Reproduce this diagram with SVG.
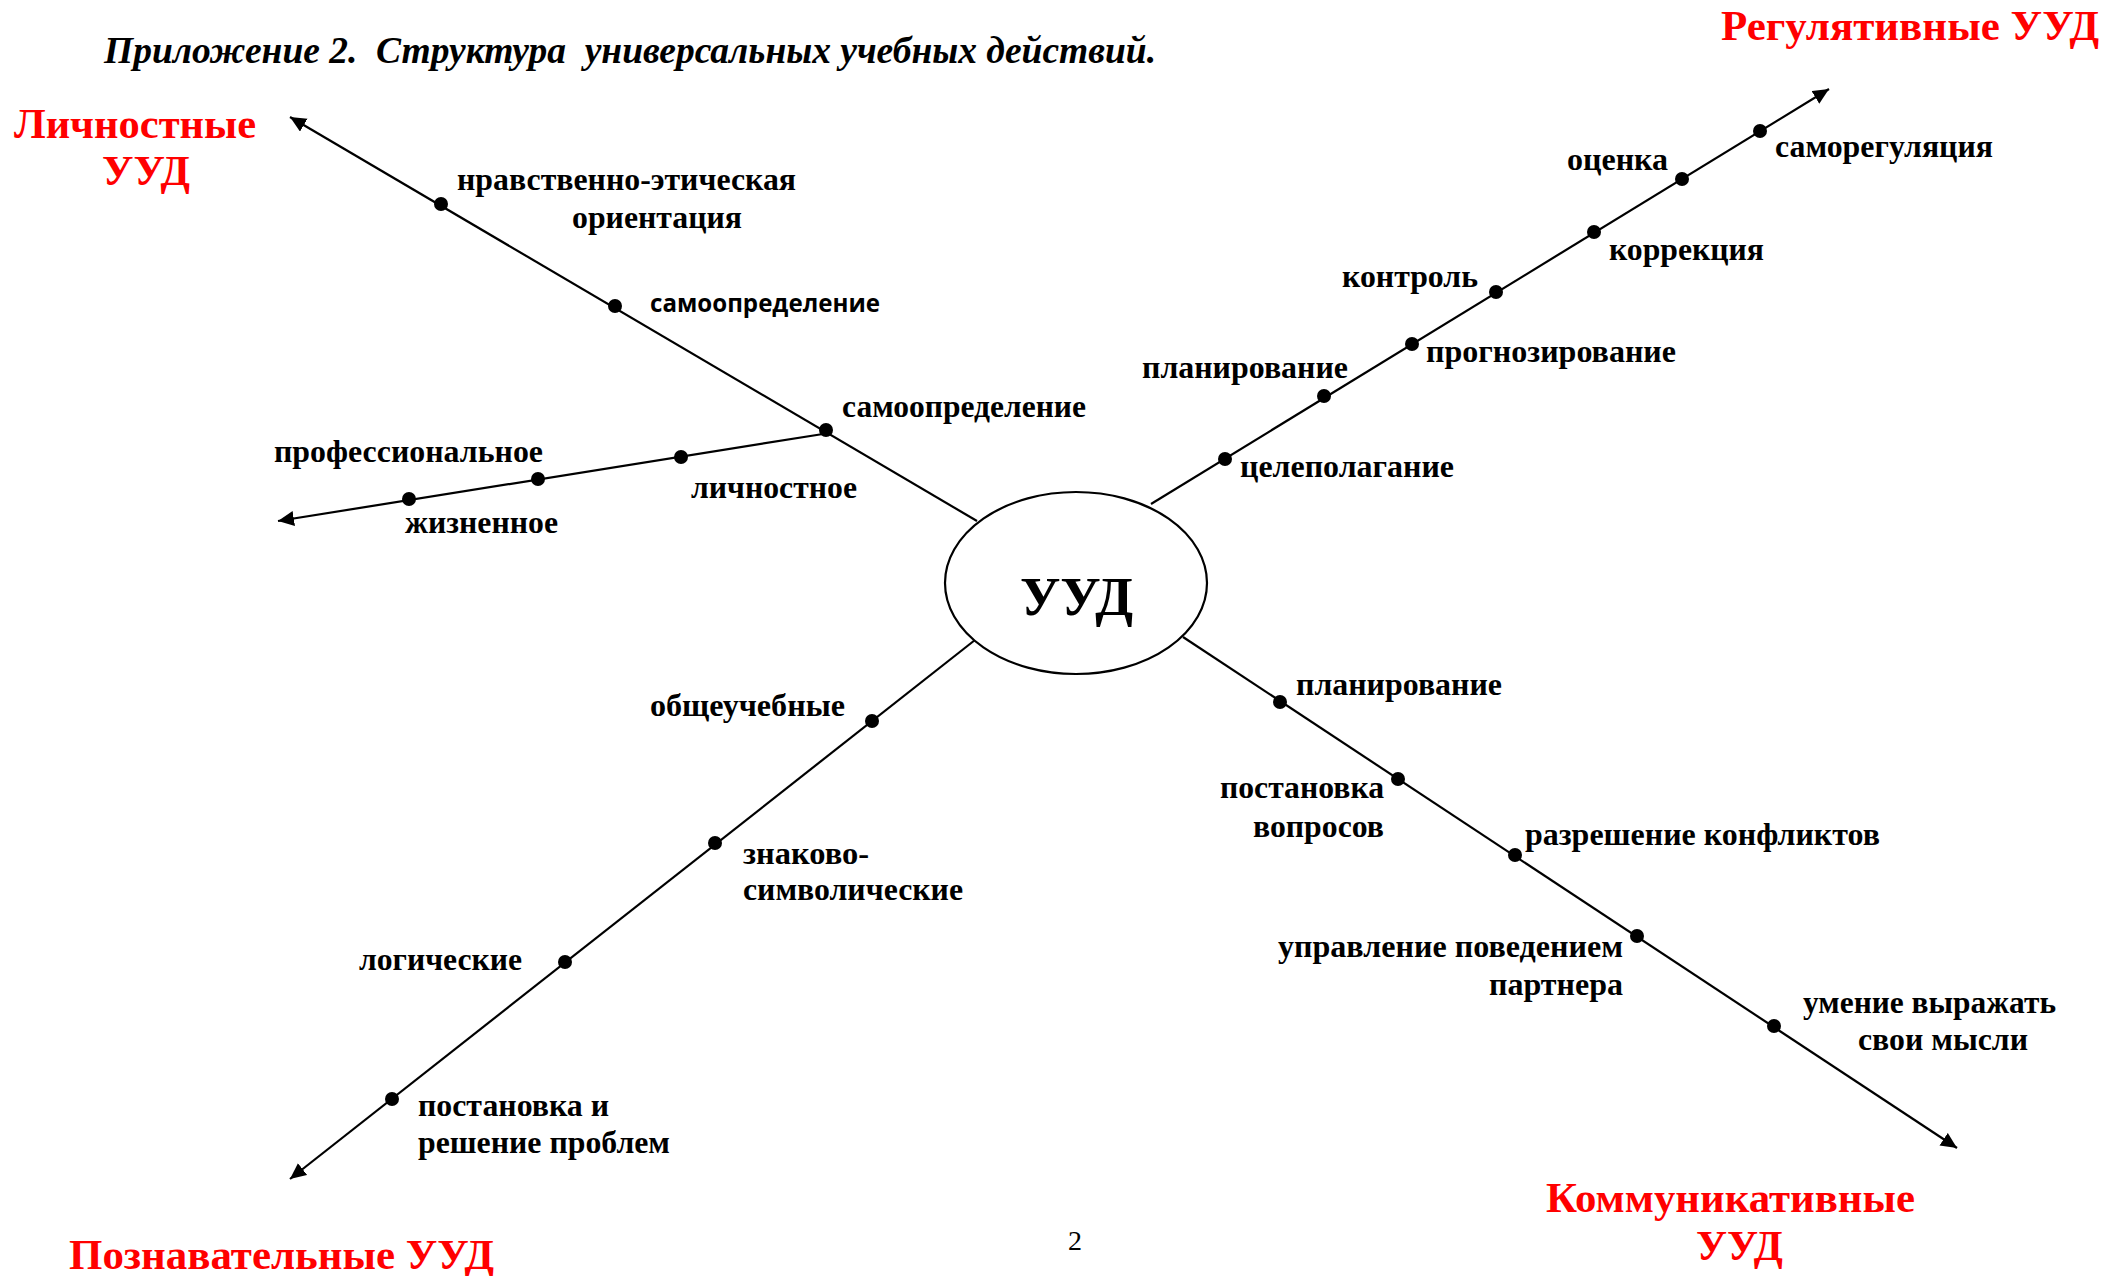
<svg xmlns="http://www.w3.org/2000/svg" width="2104" height="1276" viewBox="0 0 2104 1276">
<style>
.t{font-family:"Liberation Serif","Times New Roman",serif;font-weight:bold;font-size:32px;fill:#000}
.s{font-family:"Open Sans","Liberation Sans",sans-serif;font-weight:bold;font-size:25px;fill:#000}
.r{font-family:"Liberation Serif","Times New Roman",serif;font-weight:bold;font-size:43px;fill:#ff0000}
.ttl{font-family:"Liberation Serif","Times New Roman",serif;font-weight:bold;font-style:italic;font-size:38px;fill:#000;white-space:pre}
.big{font-size:55px}
.ln{stroke:#000;stroke-width:2.2;fill:none}
.d{fill:#000}
</style>
<defs>
<marker id="ar" markerUnits="userSpaceOnUse" markerWidth="18" markerHeight="16" refX="16" refY="7.5" orient="auto">
<path d="M0,0 L16,7.5 L0,15 z" fill="#000"/>
</marker>
</defs>
<rect width="2104" height="1276" fill="#fff"/>
<text class="ttl" x="104" y="63" textLength="1052" lengthAdjust="spacingAndGlyphs" xml:space="preserve">Приложение 2.  Структура  универсальных учебных действий.</text>
<text x="1068" y="1250" font-family="Liberation Serif, serif" font-size="28">2</text>

<g id="connectors">
<line class="ln" x1="977" y1="521" x2="290" y2="117" marker-end="url(#ar)"/>
<line class="ln" x1="823" y1="434" x2="278" y2="521" stroke-width="2.8" marker-end="url(#ar)"/>
<line class="ln" x1="1151" y1="504" x2="1829" y2="89" marker-end="url(#ar)"/>
<line class="ln" x1="1183" y1="637" x2="1957" y2="1148" marker-end="url(#ar)"/>
<line class="ln" x1="975" y1="640" x2="290" y2="1179" marker-end="url(#ar)"/>
</g>

<g id="center">
<ellipse cx="1076" cy="583" rx="131" ry="91" fill="#fff" stroke="#000" stroke-width="2.2"/>
<text class="t big" x="1020" y="615" textLength="113" lengthAdjust="spacingAndGlyphs">УУД</text>
</g>

<g id="personal">
<text class="r" x="14" y="138" textLength="242" lengthAdjust="spacingAndGlyphs">Личностные</text>
<text class="r" x="102" y="185" textLength="88" lengthAdjust="spacingAndGlyphs">УУД</text>
</g>
<g id="p1"><circle class="d" cx="441" cy="204" r="7"/>
<text class="t" x="457" y="190" textLength="339" lengthAdjust="spacingAndGlyphs">нравственно-этическая</text>
<text class="t" x="572" y="228" textLength="170" lengthAdjust="spacingAndGlyphs">ориентация</text></g>
<g id="p2"><circle class="d" cx="615" cy="306" r="7"/>
<text class="s" x="650" y="312" textLength="230" lengthAdjust="spacingAndGlyphs">самоопределение</text></g>
<g id="p3"><circle class="d" cx="826" cy="430" r="7"/>
<text class="t" x="842" y="417" textLength="244" lengthAdjust="spacingAndGlyphs">самоопределение</text></g>
<g id="p4"><circle class="d" cx="681" cy="457" r="7"/>
<text class="t" x="691" y="498" textLength="166" lengthAdjust="spacingAndGlyphs">личностное</text></g>
<g id="p5"><circle class="d" cx="538" cy="479" r="7"/>
<text class="t" x="274" y="462" textLength="269" lengthAdjust="spacingAndGlyphs">профессиональное</text></g>
<g id="p6"><circle class="d" cx="409" cy="499" r="7"/>
<text class="t" x="405" y="533" textLength="153" lengthAdjust="spacingAndGlyphs">жизненное</text></g>

<g id="regulatory">
<text class="r" x="1721" y="40" textLength="378" lengthAdjust="spacingAndGlyphs">Регулятивные УУД</text>
</g>
<g id="r1"><circle class="d" cx="1225" cy="459" r="7"/>
<text class="t" x="1240" y="477" textLength="214" lengthAdjust="spacingAndGlyphs">целеполагание</text></g>
<g id="r2"><circle class="d" cx="1324" cy="396" r="7"/>
<text class="t" x="1142" y="378" textLength="206" lengthAdjust="spacingAndGlyphs">планирование</text></g>
<g id="r3"><circle class="d" cx="1412" cy="344" r="7"/>
<text class="t" x="1426" y="362" textLength="250" lengthAdjust="spacingAndGlyphs">прогнозирование</text></g>
<g id="r4"><circle class="d" cx="1496" cy="292" r="7"/>
<text class="t" x="1342" y="287" textLength="136" lengthAdjust="spacingAndGlyphs">контроль</text></g>
<g id="r5"><circle class="d" cx="1594" cy="232" r="7"/>
<text class="t" x="1609" y="260" textLength="155" lengthAdjust="spacingAndGlyphs">коррекция</text></g>
<g id="r6"><circle class="d" cx="1682" cy="179" r="7"/>
<text class="t" x="1567" y="170" textLength="101" lengthAdjust="spacingAndGlyphs">оценка</text></g>
<g id="r7"><circle class="d" cx="1760" cy="131" r="7"/>
<text class="t" x="1775" y="157" textLength="218" lengthAdjust="spacingAndGlyphs">саморегуляция</text></g>

<g id="communicative">
<text class="r" x="1546" y="1212" textLength="369" lengthAdjust="spacingAndGlyphs">Коммуникативные</text>
<text class="r" x="1696" y="1260" textLength="87" lengthAdjust="spacingAndGlyphs">УУД</text>
</g>
<g id="c1"><circle class="d" cx="1280" cy="702" r="7"/>
<text class="t" x="1296" y="695" textLength="206" lengthAdjust="spacingAndGlyphs">планирование</text></g>
<g id="c2"><circle class="d" cx="1398" cy="779" r="7"/>
<text class="t" x="1220" y="798" textLength="164" lengthAdjust="spacingAndGlyphs">постановка</text>
<text class="t" x="1253" y="837" textLength="131" lengthAdjust="spacingAndGlyphs">вопросов</text></g>
<g id="c3"><circle class="d" cx="1515" cy="855" r="7"/>
<text class="t" x="1525" y="845" textLength="355" lengthAdjust="spacingAndGlyphs">разрешение конфликтов</text></g>
<g id="c4"><circle class="d" cx="1637" cy="936" r="7"/>
<text class="t" x="1278" y="957" textLength="345" lengthAdjust="spacingAndGlyphs">управление поведением</text>
<text class="t" x="1489" y="995" textLength="134" lengthAdjust="spacingAndGlyphs">партнера</text></g>
<g id="c5"><circle class="d" cx="1774" cy="1026" r="7"/>
<text class="t" x="1803" y="1013" textLength="253" lengthAdjust="spacingAndGlyphs">умение выражать</text>
<text class="t" x="1858" y="1050" textLength="170" lengthAdjust="spacingAndGlyphs">свои мысли</text></g>

<g id="cognitive">
<text class="r" x="69" y="1269" textLength="425" lengthAdjust="spacingAndGlyphs">Познавательные УУД</text>
</g>
<g id="k1"><circle class="d" cx="872" cy="721" r="7"/>
<text class="t" x="650" y="716" textLength="195" lengthAdjust="spacingAndGlyphs">общеучебные</text></g>
<g id="k2"><circle class="d" cx="715" cy="843" r="7"/>
<text class="t" x="743" y="864" textLength="126" lengthAdjust="spacingAndGlyphs">знаково-</text>
<text class="t" x="743" y="900" textLength="220" lengthAdjust="spacingAndGlyphs">символические</text></g>
<g id="k3"><circle class="d" cx="565" cy="962" r="7"/>
<text class="t" x="359" y="970" textLength="163" lengthAdjust="spacingAndGlyphs">логические</text></g>
<g id="k4"><circle class="d" cx="392" cy="1099" r="7"/>
<text class="t" x="418" y="1116" textLength="191" lengthAdjust="spacingAndGlyphs">постановка и</text>
<text class="t" x="418" y="1153" textLength="252" lengthAdjust="spacingAndGlyphs">решение проблем</text></g>
</svg>
